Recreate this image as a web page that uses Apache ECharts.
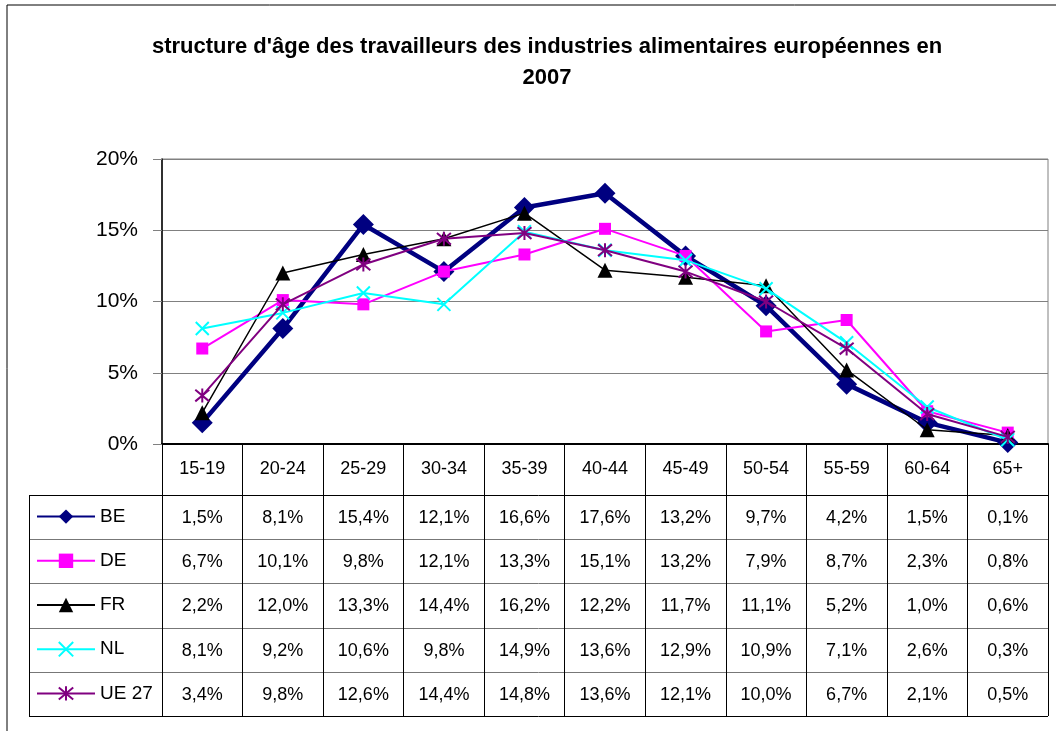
<!DOCTYPE html>
<html>
<head>
<meta charset="utf-8">
<script src="https://cdn.jsdelivr.net/npm/echarts@6/dist/echarts.min.js"></script>
<style>
html,body{margin:0;padding:0;background:#fff;}
#chart{width:1056px;height:731px;}
</style>
</head>
<body>
<div id="chart"></div>
<script>
const titleText = "structure d'âge des travailleurs des industries alimentaires européennes en\n2007";
const categories = ['15-19','20-24','25-29','30-34','35-39','40-44','45-49','50-54','55-59','60-64','65+'];
const yTicks = [0, 5, 10, 15, 20];
const seriesNames = ['BE','DE','FR','NL','UE 27'];
const BE   = [1.5, 8.1, 15.4, 12.1, 16.6, 17.6, 13.2, 9.7, 4.2, 1.5, 0.1];
const DE   = [6.7, 10.1, 9.8, 12.1, 13.3, 15.1, 13.2, 7.9, 8.7, 2.3, 0.8];
const FR   = [2.2, 12.0, 13.3, 14.4, 16.2, 12.2, 11.7, 11.1, 5.2, 1.0, 0.6];
const NL   = [8.1, 9.2, 10.6, 9.8, 14.9, 13.6, 12.9, 10.9, 7.1, 2.6, 0.3];
const UE27 = [3.4, 9.8, 12.6, 14.4, 14.8, 13.6, 12.1, 10.0, 6.7, 2.1, 0.5];
const seriesData = [BE, DE, FR, NL, UE27];

const FONT = '"Liberation Sans", Arial, sans-serif';
const styles = [
  {color:'#000080', width:4.5, symbol:'diamond', size:21, fill:'#000080', border:0},
  {color:'#FF00FF', width:2, symbol:'rect', size:12, fill:'#FF00FF', border:0},
  {color:'#000000', width:1.5, symbol:'triangle', size:15, fill:'#000000', border:0},
  {color:'#00FFFF', width:2, symbol:'path://M0,0L10,10M10,0L0,10', size:13, fill:'none', border:2},
  {color:'#800080', width:2, symbol:'path://M0,0L10,10M10,0L0,10M5,-1L5,11', size:14, fill:'none', border:2}
];

// layout
const plotL = 162, plotR = 1048, plotT = 159, plotB = 444;
const headerB = 495, rowH = 44.2, tableL = 29;
const tableB = headerB + rowH * seriesNames.length;
const colW = (plotR - plotL) / categories.length;

const fmt = v => v.toFixed(1).replace('.', ',') + '%';

const chart = echarts.init(document.getElementById('chart'), null, {renderer:'canvas'});

const graphics = [];
graphics.push({type:'rect', shape:{x:7, y:5, width:1060, height:740}, style:{fill:'none', stroke:'#000', lineWidth:1}, silent:true});
for (let i = 0; i <= seriesNames.length; i++) {
  const y = Math.round(headerB + i * rowH) + 0.5;
  const dark = (i === 0 || i === seriesNames.length);
  graphics.push({type:'line', shape:{x1:tableL, y1:y, x2:plotR, y2:y}, style:{stroke: dark ? '#000' : '#777', lineWidth:1}, silent:true});
}
graphics.push({type:'line', shape:{x1:tableL+0.5, y1:headerB, x2:tableL+0.5, y2:Math.round(tableB)+0.5}, style:{stroke:'#000', lineWidth:1}, silent:true});
seriesData.forEach((arr, r) => {
  arr.forEach((v, c) => {
    graphics.push({type:'text', x: plotL + colW * (c + 0.5), y: headerB + rowH * (r + 0.5) + 1,
      style:{text: fmt(v), fill:'#000', font:'18px ' + FONT, textAlign:'center', textVerticalAlign:'middle'}, silent:true});
  });
});

const legends = seriesNames.map((n, i) => ({
  data:[n], orient:'horizontal', left:36, top: headerB + rowH * (i + 0.5) - 10,
  itemWidth:58, itemHeight:18, itemGap:0, padding:0,
  textStyle:{fontSize:19, fontFamily:FONT, color:'#000', padding:[0,0,0,0]},
  selectedMode:false
}));

const option = {
  animation:false,
  backgroundColor:'#fff',
  title:{text:titleText, left: 542, textAlign:'center', top:26,
    textStyle:{fontSize:22, fontWeight:'bold', fontFamily:FONT, color:'#000', lineHeight:31}},
  legend: legends,
  grid:{left:plotL, top:plotT, width:plotR-plotL, height:plotB-plotT, show:true, borderColor:'#808080', borderWidth:1, backgroundColor:'transparent'},
  xAxis:{type:'category', data:categories, boundaryGap:true,
    axisLine:{show:true, lineStyle:{color:'#000', width:2}},
    axisTick:{show:true, inside:false, length: Math.round(tableB) - plotB, lineStyle:{color:'#000', width:1}},
    axisLabel:{fontSize:18, fontFamily:FONT, color:'#000', margin:16, interval:0},
    splitLine:{show:false}},
  yAxis:{type:'value', min:yTicks[0], max:yTicks[yTicks.length-1], interval:yTicks[1]-yTicks[0],
    axisLine:{show:true, lineStyle:{color:'#000', width:1.5}},
    axisTick:{show:true, length:9, lineStyle:{color:'#808080'}},
    axisLabel:{formatter:'{value}%', fontSize:21, fontFamily:FONT, color:'#000', margin:24},
    splitLine:{show:true, lineStyle:{color:'#808080', width:1}}},
  series: seriesNames.map((n, i) => ({
    name:n, type:'line', data:seriesData[i],
    symbol:styles[i].symbol, symbolSize:styles[i].size, showAllSymbol:true,
    lineStyle:{color:styles[i].color, width:styles[i].width},
    itemStyle:{color:styles[i].fill === 'none' ? 'rgba(0,0,0,0)' : styles[i].fill, borderColor:styles[i].color, borderWidth:styles[i].border},
    emphasis:{disabled:true}, z: 2 + i
  })),
  graphic: graphics
};
chart.setOption(option);
</script>
</body>
</html>
